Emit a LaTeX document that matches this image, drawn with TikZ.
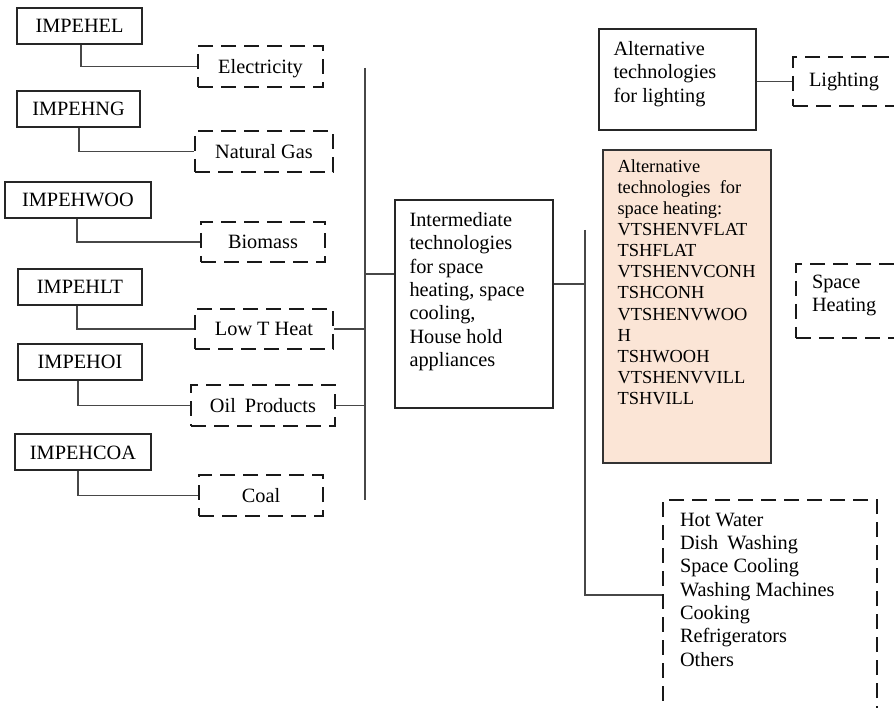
\documentclass[tikz,border=0pt]{standalone}
\usepackage{fontspec}
\setmainfont{Liberation Serif}
\definecolor{peach}{RGB}{251,229,214}
\begin{document}
\begin{tikzpicture}[x=1pt,y=-1pt,
  every node/.style={font=\fontsize{20.3}{23.3}\selectfont},
  solidbox/.style={draw=black!85, line width=1.3pt, inner sep=0pt},
  dashbox/.style={draw=black!90, line width=2.4pt, dash pattern=on 15pt off 8pt, inner sep=0pt},
  conn/.style={draw=black!72, line width=1.4pt},
  lowered/.style={text height=16pt, text depth=2pt},
  txt/.style={inner sep=0pt, align=left, anchor=north west},
  smalltxt/.style={inner sep=0pt, align=left, anchor=north west, font=\fontsize{18.4}{21.1}\selectfont}]
\clip (0,0) rectangle (894,708);
\fill[white] (0,0) rectangle (894,708);

% left column
\node[solidbox, lowered, minimum width=125, minimum height=36] (impehel) at (79.5,26) {IMPEHEL};
\node[dashbox, lowered, minimum width=125, minimum height=41] (elec) at (260.5,66.5) {Electricity};
\node[solidbox, lowered, minimum width=123, minimum height=36] (impehng) at (78.5,109) {IMPEHNG};
\node[dashbox, lowered, minimum width=138, minimum height=41] (natgas) at (264,151.5) {Natural Gas};
\node[solidbox, lowered, minimum width=146, minimum height=36] (impehwoo) at (78,200) {IMPEHWOO};
\node[dashbox, lowered, minimum width=124, minimum height=40] (biomass) at (263,242) {Biomass};
\node[solidbox, lowered, minimum width=124, minimum height=36] (impehlt) at (80,287) {IMPEHLT};
\node[dashbox, lowered, minimum width=138, minimum height=40] (lowt) at (264,329) {Low T Heat};
\node[solidbox, lowered, minimum width=124, minimum height=36] (impehoi) at (80,362) {IMPEHOI};
\node[dashbox, lowered, minimum width=144, minimum height=41] (oil) at (263,405.5) {Oil\hspace{4pt} Products};
\node[solidbox, lowered, minimum width=136, minimum height=36] (impehcoa) at (83,452) {IMPEHCOA};
\node[dashbox, lowered, minimum width=124, minimum height=41] (coal) at (261,495.5) {Coal};

\draw[conn] ([xshift=1.5pt]impehel.south) |- (elec.west);
\draw[conn] ([xshift=0.5pt]impehng.south) |- (natgas.west);
\draw[conn] ([xshift=-1pt]impehwoo.south) |- (biomass.west);
\draw[conn] ([xshift=-3pt]impehlt.south) |- (lowt.west);
\draw[conn] ([xshift=-2pt]impehoi.south) |- (oil.west);
\draw[conn] ([xshift=-5pt]impehcoa.south) |- (coal.west);

% first bus
\coordinate (bustop) at (365,68);
\coordinate (busbot) at (365,500);
\coordinate (busj) at (365,274);
\draw[conn] (bustop) -- (busbot);
\draw[conn] (lowt.east) -- (lowt.east -| bustop);
\draw[conn] (oil.east) -- (oil.east -| bustop);

% intermediate
\node[solidbox, minimum width=158, minimum height=208] (inter) at (474,304) {};
\node[txt] (intertext) at ([shift={(15,13)}]inter.north west) {Intermediate\\technologies\\for space\\heating, space\\cooling,\\House hold\\appliances};
\draw[conn] (busj) -- (busj -| inter.west);

% lighting
\node[solidbox, minimum width=157, minimum height=101] (altlight) at (677.5,79.5) {};
\node[txt] (altlighttext) at ([shift={(15,13)}]altlight.north west) {Alternative\\technologies\\for lighting};
\node[dashbox, minimum width=150, minimum height=49] (light) at (868,81.5) {};
\node[inner sep=0pt, anchor=west] (lighttext) at ([xshift=17pt]light.west) {Lighting};
\draw[conn] (light.west -| altlight.east) -- (light.west);

% space heating alternatives
\node[solidbox, draw=black!80, fill=peach, minimum width=168, minimum height=313] (shalt) at (687,306.5) {};
\node[smalltxt] (shalttext) at ([shift={(15,10)}]shalt.north west) {Alternative\\technologies\ \ for\\space heating:\\VTSHENVFLAT\\TSHFLAT\\VTSHENVCONH\\TSHCONH\\VTSHENVWOO\\H\\TSHWOOH\\VTSHENVVILL\\TSHVILL};

\node[dashbox, minimum width=150, minimum height=74] (sh) at (871,301) {};
\node[txt] (shtext) at ([shift={(17,12)}]sh.north west) {Space\\Heating};

% others
\node[dashbox, minimum width=214, minimum height=260] (others) at (770,630) {};
\node[txt] (otherstext) at ([shift={(18,14)}]others.north west) {Hot Water\\Dish\hspace{4pt} Washing\\Space Cooling\\Washing Machines\\Cooking\\Refrigerators\\Others};

% second bus
\coordinate (bus2top) at (585,230);
\coordinate (bus2j) at (585,284);
\coordinate (bus2bot) at (585,595);
\draw[conn] (bus2j -| inter.east) -- (bus2j);
\draw[conn] (bus2top) -- (bus2bot) -- (bus2bot -| others.west);
\end{tikzpicture}
\end{document}
